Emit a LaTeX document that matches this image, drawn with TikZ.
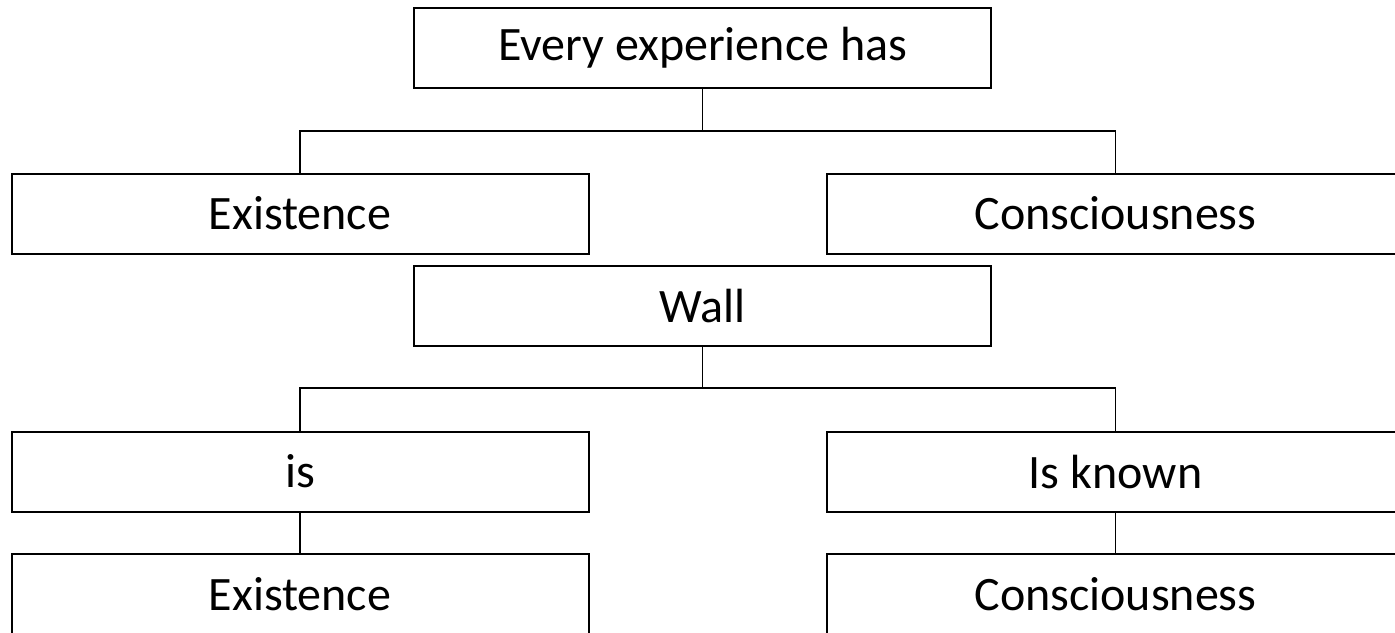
\documentclass[tikz,border=0pt]{standalone}
\usepackage{fontspec}
\setmainfont{Carlito}
\usepackage{tikz}

\tikzset{
  termbox/.style={draw,line width=1pt,minimum width=288.5pt,minimum height=40pt,
    inner sep=0pt,font=\fontsize{24}{28}\selectfont},
  link/.style={line width=0.55pt}
}

\begin{document}
\begin{tikzpicture}[x=0.5pt,y=-0.5pt]
        \useasboundingbox (0,0) rectangle (1395,632);
        \node[termbox] (every) at (702.5,48) {Every experience has};
        \node[termbox] (exist) at (300,213.5) {Existence};
        \node[termbox] (consc) at (1115.5,213.5) {Consciousness};
        \node[termbox] (wall) at (702.5,306) {Wall};
        \node[termbox] (is) at (300,471.5) {is};
        \node[termbox] (known) at (1115.5,471.5) {Is known};
        \node[termbox] (existb) at (300,594) {Existence};
        \node[termbox] (conscb) at (1115.5,594) {Consciousness};

        \coordinate (busa) at (702.5,131);
        \coordinate (busb) at (702.5,388);
        \draw[link] (every) -- (busa);
        \draw[link] (exist.north) |- (busa) -| (consc.north);
        \draw[link] (wall) -- (busb);
        \draw[link] (is.north) |- (busb) -| (known.north);
        \draw[link] (is) -- (existb);
        \draw[link] (known) -- (conscb);
      \end{tikzpicture}
\end{document}
